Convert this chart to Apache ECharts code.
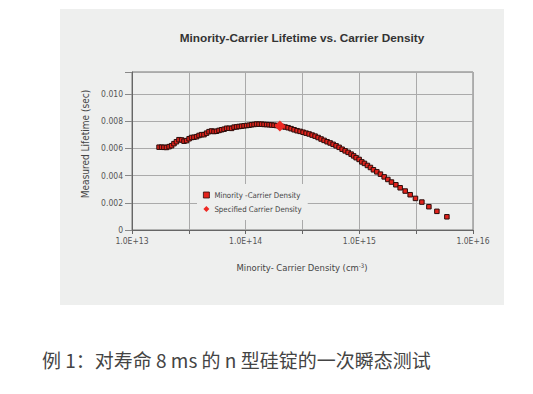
<!DOCTYPE html>
<html><head><meta charset="utf-8">
<script src="https://cdn.jsdelivr.net/npm/echarts@6/dist/echarts.min.js"></script>
<style>html,body{margin:0;padding:0;background:#fff}#c{width:533px;height:394px}</style>
</head><body><div id="c"></div>
<script>
// Minority-carrier density (cm^-3)
const densities = [
1.73e13,1.82e13,1.91e13,2.01e13,2.12e13,2.23e13,2.34e13,2.46e13,2.59e13,2.73e13,
2.87e13,3.02e13,3.18e13,3.34e13,3.51e13,3.70e13,3.89e13,4.09e13,4.30e13,4.53e13,
4.76e13,5.01e13,5.27e13,5.54e13,5.83e13,6.14e13,6.46e13,6.79e13,7.14e13,7.52e13,
7.91e13,8.32e13,8.75e13,9.20e13,9.68e13,1.019e14,1.072e14,1.127e14,1.186e14,1.247e14,
1.312e14,1.380e14,1.452e14,1.528e14,1.607e14,1.690e14,1.778e14,1.871e14,1.968e14,2.091e14,
2.222e14,2.362e14,2.509e14,2.668e14,2.835e14,3.012e14,3.201e14,3.401e14,3.615e14,3.842e14,
4.082e14,4.339e14,4.610e14,4.899e14,5.206e14,5.534e14,5.881e14,6.249e14,6.641e14,7.057e14,
7.499e14,7.969e14,8.469e14,8.909e14,9.372e14,9.959e14,1.052e15,1.109e15,1.178e15,1.252e15,
1.331e15,1.426e15,1.533e15,1.654e15,1.782e15,1.917e15,2.096e15,2.287e15,2.531e15,2.800e15,
3.117e15,3.549e15,4.091e15,4.811e15,5.893e15
];
// Measured lifetime (sec)
const lifetimes = [
0.00608,0.00608,0.00607,0.00606,0.00612,0.00619,0.00634,0.00648,0.00663,0.00661,
0.00652,0.00656,0.00670,0.00679,0.00681,0.00685,0.00694,0.00700,0.00700,0.00711,
0.00722,0.00727,0.00723,0.00725,0.00731,0.00736,0.00740,0.00747,0.00747,0.00746,
0.00755,0.00757,0.00760,0.00762,0.00765,0.00767,0.00769,0.00773,0.00775,0.00778,
0.00777,0.00777,0.00775,0.00774,0.00773,0.00771,0.00769,0.00767,0.00765,0.00760,
0.00756,0.00751,0.00744,0.00736,0.00729,0.00724,0.00718,0.00711,0.00705,0.00697,
0.00689,0.00679,0.00668,0.00658,0.00648,0.00639,0.00629,0.00618,0.00607,0.00593,
0.00581,0.00570,0.00557,0.00544,0.00531,0.00518,0.00500,0.00489,0.00474,0.00459,
0.00442,0.00427,0.00410,0.00390,0.00371,0.00352,0.00332,0.00310,0.00286,0.00259,
0.00232,0.00205,0.00171,0.00137,0.00097
];
const specDensity = [2.0e14];
const specLifetime = [0.00764];
const seriesNames = ['Minority -Carrier Density', 'Specified Carrier Density'];
const chartTitle = 'Minority-Carrier Lifetime vs. Carrier Density';
const yName = 'Measured Lifetime (sec)';
const caption = '例 1：对寿命 8 ms 的 n 型硅锭的一次瞬态测试';

const NARROW = '"Liberation Sans Narrow","DejaVu Sans Condensed","Liberation Sans",sans-serif';
const chart = echarts.init(document.getElementById('c'), null, {renderer: 'svg'});
chart.setOption({
  backgroundColor: '#ffffff',
  animation: false,
  graphic: [
    {type: 'rect', z: -10, shape: {x: 60, y: 9, width: 444, height: 296}, style: {fill: '#eeefee'}},
    {type: 'text', x: 302, y: 38, style: {text: chartTitle, font: 'bold 11.8px "Liberation Sans",sans-serif', fill: '#333', align: 'center', verticalAlign: 'middle'}},
    {type: 'text', x: 85, y: 144, rotation: Math.PI / 2, style: {text: yName, font: '10px ' + NARROW, fill: '#444', align: 'center', verticalAlign: 'middle'}},
    {type: 'text', x: 302, y: 267, style: {text: 'Minority- Carrier Density (cm{sup|-3})', font: '9.4px ' + NARROW, fill: '#444', align: 'center', verticalAlign: 'middle',
      rich: {sup: {fontSize: 6, fontFamily: NARROW, fill: '#444', verticalAlign: 'top'}}}},
    {type: 'text', x: 42, y: 359, style: {text: caption, font: '19px "Noto Sans CJK SC",sans-serif', fill: '#444', align: 'left', verticalAlign: 'middle'}}
  ],
  grid: {left: 132, right: 60, top: 72, bottom: 164, show: true, borderColor: '#777', borderWidth: 1, backgroundColor: 'transparent'},
  legend: {
    left: 197, top: 184, orient: 'vertical', itemGap: 6, itemWidth: 6, itemHeight: 6,
    padding: [7, 6, 7, 6], backgroundColor: '#eeefee',
    textStyle: {fontSize: 7.8, fontFamily: NARROW, color: '#444'},
    data: [
      {name: seriesNames[0], icon: 'rect', itemStyle: {borderWidth: 0.8}},
      {name: seriesNames[1], icon: 'diamond', itemWidth: 8, itemHeight: 8}
    ]
  },
  xAxis: {
    type: 'log', logBase: 10, min: 1e13, max: 1e16, interval: 0.5,
    axisLine: {show: true, lineStyle: {color: '#666'}},
    axisTick: {show: true, inside: false, length: 4, lineStyle: {color: '#666'}},
    splitLine: {show: true, lineStyle: {color: '#aaa', width: 1}},
    axisLabel: {fontSize: 8.5, fontFamily: NARROW, color: '#555', margin: 6,
      formatter: function (v) { const e = Math.log10(v); return Math.abs(e - Math.round(e)) < 1e-6 ? '1.0E+' + Math.round(e) : ''; }}
  },
  yAxis: {
    type: 'value', min: 0, max: 0.0116, interval: 0.002,
    axisLine: {show: true, lineStyle: {color: '#666'}},
    axisTick: {show: true, length: 7, lineStyle: {color: '#888'}},
    splitLine: {show: true, lineStyle: {color: '#aaa', width: 1}},
    axisLabel: {fontSize: 8.5, fontFamily: NARROW, color: '#555', margin: 9,
      formatter: function (v) { if (v === 0) return '0'; if (v > 0.0105) return ''; return v.toFixed(3); }}
  },
  series: [
    {
      name: seriesNames[0], type: 'scatter', symbol: 'rect', symbolSize: 4.5,
      itemStyle: {color: '#e3231c', borderColor: '#2b0d0b', borderWidth: 1, opacity: 1},
      data: densities.map((n, i) => [n, lifetimes[i]]), z: 3
    },
    {
      name: seriesNames[1], type: 'scatter', symbol: 'diamond', symbolSize: 11,
      itemStyle: {color: '#ee2a24', opacity: 1},
      data: specDensity.map((n, i) => [n, specLifetime[i]]), z: 4
    }
  ]
});
</script></body></html>
